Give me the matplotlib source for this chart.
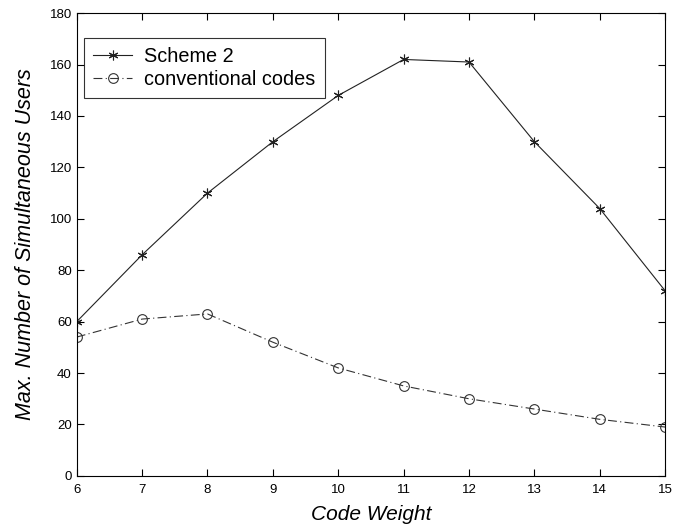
import numpy as np
import matplotlib
matplotlib.use("Agg")
import matplotlib.pyplot as plt

plt.rcParams['font.family'] = ['Liberation Sans', 'DejaVu Sans']

weights = [6, 7, 8, 9, 10, 11, 12, 13, 14, 15]
scheme2 = [60, 86, 110, 130, 148, 162, 161, 130, 104, 72]
conventional = [54, 61, 63, 52, 42, 35, 30, 26, 22, 19]

fig = plt.figure(figsize=(6.85, 5.27), dpi=100)
ax = fig.add_axes([0.112, 0.097, 0.859, 0.878])

ax.plot(weights, scheme2, color='#222222', lw=0.8, marker=(6, 2, 0),
        ms=7, mew=0.8, label='Scheme 2')
ax.plot(weights, conventional, color='#333333', lw=0.8, ls=(0, (8, 3, 1, 3)),
        marker='o', ms=7, mfc='none', mew=0.8, label='conventional codes')

ax.set_xlim(6, 15)
ax.set_ylim(0, 180)
ax.set_xticks(weights)
ax.set_yticks(np.arange(0, 181, 20))
ax.tick_params(direction='in', top=True, right=True, labelsize=9.5, length=5)
ax.tick_params(axis='x', pad=6)
for s in ax.spines.values():
    s.set_linewidth(0.8)

ax.set_xlabel('Code Weight', fontsize=15, style='italic', labelpad=6)
ax.set_ylabel('Max. Number of Simultaneous Users', fontsize=15.5,
              style='italic', labelpad=10)

leg = ax.legend(loc='upper left', bbox_to_anchor=(0.012, 0.946), fontsize=14.3,
                frameon=True, fancybox=False, edgecolor='black',
                borderaxespad=0, borderpad=0.45, labelspacing=0.2,
                handlelength=2.0, handletextpad=0.6)
leg.get_frame().set_linewidth(0.8)

fig.savefig('out.png', dpi=100)
